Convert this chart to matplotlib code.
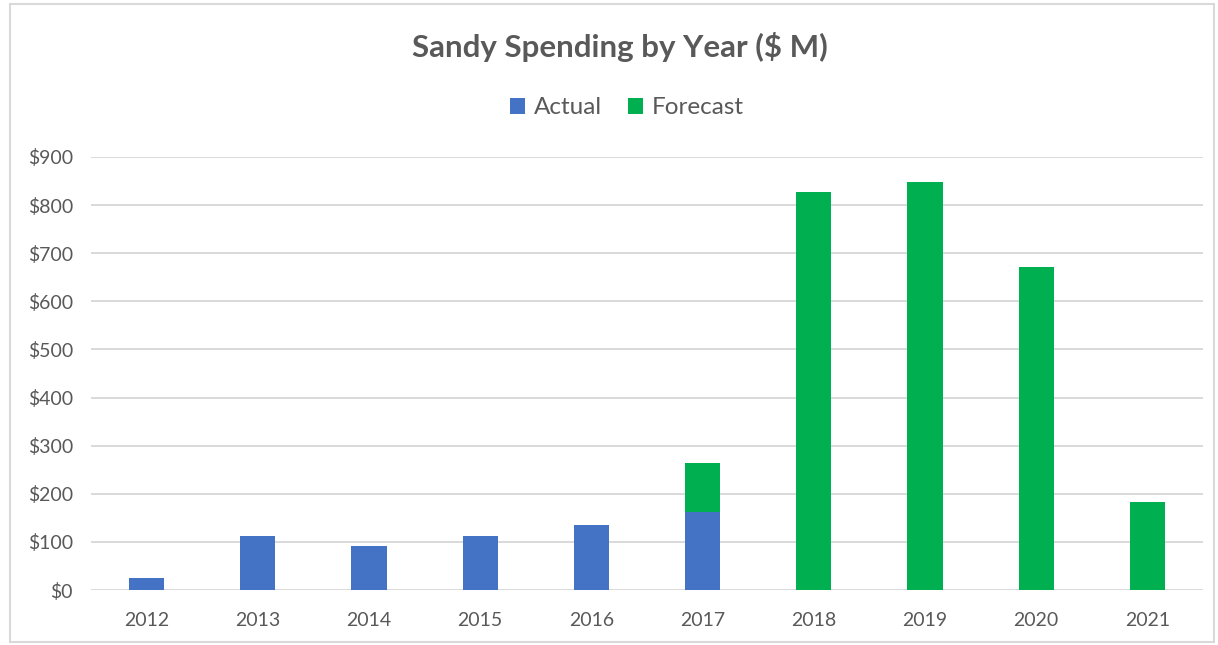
import matplotlib
matplotlib.use("Agg")
import matplotlib.pyplot as plt
from matplotlib.patches import Rectangle
import numpy as np

years = ["2012", "2013", "2014", "2015", "2016", "2017", "2018", "2019", "2020", "2021"]
actual = [24, 113, 92, 113, 136, 163, 0, 0, 0, 0]
forecast = [0, 0, 0, 0, 0, 100, 827, 849, 672, 183]
yticks = [0, 100, 200, 300, 400, 500, 600, 700, 800, 900]
ytick_labels = ["$0", "$100", "$200", "$300", "$400", "$500", "$600", "$700", "$800", "$900"]

BLUE = "#4472C4"
GREEN = "#00B050"
TXT = "#595959"
GRID = "#D9D9D9"

plt.rcParams["font.family"] = ["Lato", "DejaVu Sans"]

W, H = 1218, 645
fig = plt.figure(figsize=(W / 100, H / 100), dpi=100)
ax = fig.add_axes([91 / W, (H - 590) / H, (1203 - 91) / W, (590 - 157) / H])

x = np.arange(len(years))
bw = 0.315
ax.bar(x, actual, width=bw, color=BLUE, label="Actual", zorder=3)
ax.bar(x, forecast, width=bw, bottom=actual, color=GREEN, label="Forecast", zorder=3)

ax.set_xlim(-0.5, len(years) - 0.5)
ax.set_ylim(0, 900)
ax.set_yticks(yticks)
ax.set_yticklabels(ytick_labels)
ax.set_xticks(x)
ax.set_xticklabels(years)
ax.tick_params(axis="both", length=0, colors=TXT)
ax.tick_params(axis="y", pad=13, labelsize=14)
ax.tick_params(axis="x", pad=15.5, labelsize=14)
for s in ax.spines.values():
    s.set_visible(False)
ax.yaxis.grid(True, color=GRID, linewidth=1.4, zorder=0)
ax.set_axisbelow(True)

fig.text(620 / W, 1 - 47 / H, "Sandy Spending by Year ($ M)", ha="center", va="center",
         fontsize=22.5, fontweight="bold", color=TXT)

leg = fig.legend(loc="center", bbox_to_anchor=(627 / W, 1 - 108 / H), ncol=2, frameon=False,
                 fontsize=17.5, labelcolor=TXT, handlelength=0.6, handleheight=0.6,
                 handletextpad=0.35, columnspacing=1.1)

fig.patches.append(Rectangle((10 / W, 3 / H), (1214 - 10) / W, (641 - 3) / H,
                             transform=fig.transFigure, fill=False, edgecolor="#D9D9D9",
                             linewidth=1.5))

fig.savefig("out.png", dpi=100, facecolor="white")
